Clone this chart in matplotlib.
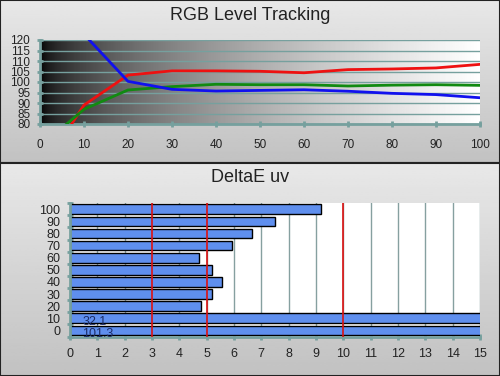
"""RGB level tracking and DeltaE uv panels."""

import numpy as np
import matplotlib
matplotlib.use('Agg')
from matplotlib import pyplot as plt
from matplotlib.patches import Rectangle

# top chart data (stimulus level in %)
levels = [0, 10, 20, 30, 40, 50, 60, 70, 80, 90, 100]
red = [57.0, 89.0, 103.3, 105.3, 105.3, 105.1, 104.4, 105.9, 106.2, 106.7, 108.4]
green = [69.2, 87.0, 96.2, 97.8, 98.9, 98.7, 98.7, 98.1, 98.5, 98.7, 98.4]
blue = [145.0, 122.7, 100.3, 96.5, 95.7, 96.0, 96.3, 95.6, 94.6, 94.0, 92.5]

# bottom chart data
de_labels = ['0', '10', '20', '30', '40', '50', '60', '70', '80', '90', '100']
de_values = [101.3, 32.1, 4.8, 5.2, 5.57, 5.2, 4.72, 5.93, 6.65, 7.5, 9.2]
ref_lines = [3, 5, 10]

TEAL = '#76a09e'
plt.rcParams['font.family'] = ['Liberation Sans', 'DejaVu Sans']

fig = plt.figure(figsize=(5.0, 3.76), dpi=100)

# panel backgrounds (vertical gray gradient)
split = 1 - 163 / 376
for y0, h in [(split, 1 - split), (0, split)]:
    bg = fig.add_axes([0, y0, 1, h], zorder=-5)
    grad = np.linspace(0.91, 0.76, 100).reshape(-1, 1)
    bg.imshow(grad, aspect='auto', cmap='gray', vmin=0, vmax=1,
              extent=[0, 1, 0, 1])
    bg.set_axis_off()
    bg.add_patch(Rectangle((0, 0), 1, 1, transform=bg.transAxes, fill=False,
                           edgecolor='#222222', lw=1.5, clip_on=False))

fig.text(0.5, 0.958, 'RGB Level Tracking', ha='center', va='center',
         fontsize=13, color='#222222')
fig.text(0.5, 0.527, 'DeltaE uv', ha='center', va='center',
         fontsize=13, color='#222222')

# --- top chart ---
ax = fig.add_axes([0.08, 1 - 124 / 376, 0.88, 84 / 376])
xg = np.linspace(0, 1, 256)
ax.imshow((xg ** 0.55).reshape(1, -1), aspect='auto', cmap='gray',
          vmin=0, vmax=1, extent=[0, 100, 80, 120], zorder=0)
ax.plot(levels, red, color='#ee1111', lw=2, zorder=3)
ax.plot(levels, green, color='#118a11', lw=2, zorder=3)
ax.plot(levels, blue, color='#1111ee', lw=2, zorder=4)
ax.set_xlim(0, 100)
ax.set_ylim(80, 120)
ax.set_xticks(range(0, 101, 10))
ax.set_yticks(range(80, 121, 5))
ax.yaxis.grid(True, color=TEAL, lw=1)
ax.set_axisbelow(False)
for s in ['top', 'right']:
    ax.spines[s].set_visible(False)
for s in ['left', 'bottom']:
    ax.spines[s].set_color(TEAL)
    ax.spines[s].set_linewidth(2)
ax.tick_params(axis='x', colors=TEAL, length=5, width=2, direction='inout',
               labelsize=8.5, labelcolor='#222222', pad=8)
ax.tick_params(axis='y', colors=TEAL, length=4, width=2, direction='inout',
               labelsize=8.5, labelcolor='#222222', pad=5)

# --- bottom chart ---
bx = fig.add_axes([0.14, 1 - 336.5 / 376, 0.82, 133.3 / 376])
bx.set_facecolor('white')
ypos = np.arange(len(de_labels))
bx.barh(ypos, de_values, height=0.8, color='#5f8fee', edgecolor='black',
        lw=1, zorder=2)
for v in ref_lines:
    bx.axvline(v, color='#dd1111', lw=1.2, zorder=3)
bx.set_xlim(0, 15)
bx.set_ylim(-0.5, len(de_labels) - 0.5)
bx.set_xticks(range(0, 16))
bx.xaxis.grid(True, color='#86a0a0', lw=1, zorder=1)
bx.set_axisbelow(True)
bx.set_yticks(ypos)
bx.set_yticklabels(de_labels)
bx.set_yticks(np.arange(-0.5, len(de_labels)), minor=True)
bx.tick_params(axis='y', which='major', length=0, labelsize=9,
               labelcolor='#222222', pad=7)
bx.tick_params(axis='y', which='minor', length=4, width=2, colors=TEAL,
               direction='inout')
bx.tick_params(axis='x', length=4, width=2, colors=TEAL, direction='inout',
               labelsize=9, labelcolor='#222222', pad=6)
for s in ['top', 'right']:
    bx.spines[s].set_visible(False)
for s in ['left', 'bottom']:
    bx.spines[s].set_color(TEAL)
    bx.spines[s].set_linewidth(2)
for i, v in enumerate(de_values):
    if v > 15:
        bx.text(0.45, i - 0.27, f'{v:.1f}', ha='left', va='center',
                fontsize=9, color='#1c2c66', zorder=4)

fig.savefig('out.png', dpi=100)
